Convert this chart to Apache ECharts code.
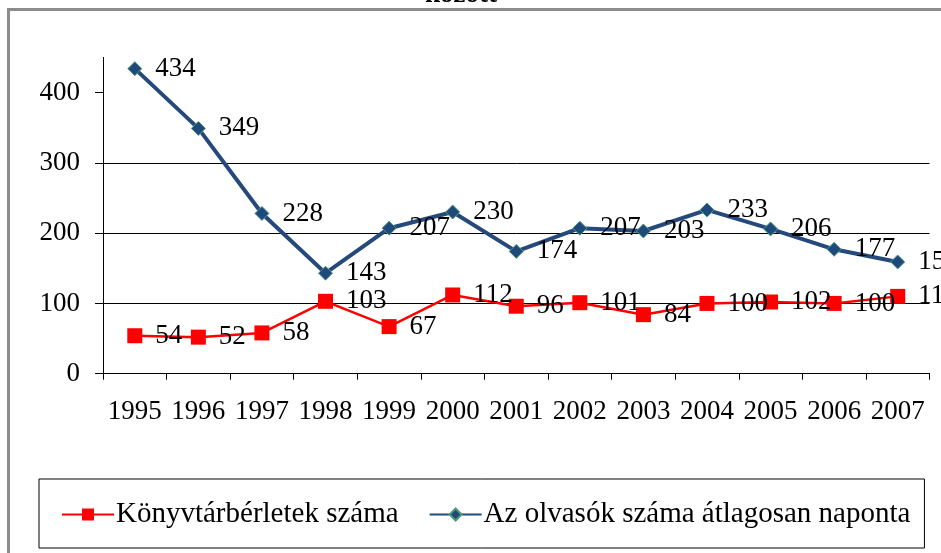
<!DOCTYPE html>
<html>
<head>
<meta charset="utf-8">
<script src="https://cdn.jsdelivr.net/npm/echarts@6/dist/echarts.min.js"></script>
<style>
  html, body { margin: 0; padding: 0; background: #fff; }
  #chart { width: 941px; height: 553px; }
</style>
</head>
<body>
<div id="chart"></div>
<script>
	'use strict';
	var years = ['1995', '1996', '1997', '1998', '1999', '2000', '2001', '2002', '2003', '2004', '2005', '2006', '2007'];
	// Könyvtárbérletek száma
	var berletek = [54, 52, 58, 103, 67, 112, 96, 101, 84, 100, 102, 100, 110];
	// Az olvasók száma átlagosan naponta
	var olvasok = [434, 349, 228, 143, 207, 230, 174, 207, 203, 233, 206, 177, 159];
	var yTicks = [0, 100, 200, 300, 400];

	var font = '"Liberation Serif", "Times New Roman", serif';
	var chart = echarts.init(document.getElementById('chart'));

	var option = {
		animation: false,
		title: {
			text: 'között',
			left: 420,
			top: -23,
			textStyle: { fontFamily: font, fontSize: 27, fontWeight: 'bold', color: '#000' }
		},
		graphic: [
			{
				type: 'rect',
				shape: { x: 8.5, y: 9.5, width: 960, height: 600 },
				style: { fill: 'none', stroke: '#8c8c8c', lineWidth: 3 },
				silent: true
			}
		],
		grid: { left: 103, right: 11.5, top: 57.4, bottom: 179.3 },
		legend: {
			left: 39,
			top: 479,
			padding: [21, 14, 19, 22],
			borderColor: '#000',
			borderWidth: 1,
			itemWidth: 52,
			itemHeight: 15,
			itemGap: 30,
			textStyle: { fontFamily: font, fontSize: 29, color: '#000', padding: [0, 0, 0, -3] },
			data: ['Könyvtárbérletek száma', 'Az olvasók száma átlagosan naponta']
		},
		xAxis: {
			type: 'category',
			data: years,
			boundaryGap: true,
			axisLine: { lineStyle: { color: '#000', width: 1 } },
			axisTick: { show: true, length: 6, lineStyle: { color: '#000' } },
			axisLabel: { interval: 0, color: '#000', fontFamily: font, fontSize: 27, margin: 25 },
			splitLine: { show: false }
		},
		yAxis: {
			type: 'value',
			min: 0,
			max: 450,
			interval: 100,
			axisLine: { show: true, lineStyle: { color: '#000', width: 1 } },
			axisTick: { show: true, length: 8, customValues: yTicks, lineStyle: { color: '#000' } },
			axisLabel: { color: '#000', fontFamily: font, fontSize: 27, margin: 23, customValues: yTicks },
			splitLine: { show: true, showMaxLine: false, lineStyle: { color: '#000', width: 1 } }
		},
		series: [
			{
				name: 'Könyvtárbérletek száma',
				type: 'line',
				data: berletek,
				symbol: 'rect',
				symbolSize: 15,
				itemStyle: { color: '#ff0000' },
				lineStyle: { color: '#ff0000', width: 2.5 },
				label: {
					show: true,
					position: 'right',
					distance: 13,
					color: '#000',
					fontFamily: font,
					fontSize: 27
				},
				z: 3
			},
			{
				name: 'Az olvasók száma átlagosan naponta',
				type: 'line',
				data: olvasok,
				symbol: 'diamond',
				symbolSize: 14,
				itemStyle: { color: '#1f497d', borderColor: '#4f9a7c', borderWidth: 1 },
				lineStyle: { color: '#24497a', width: 4 },
				label: {
					show: true,
					position: 'right',
					distance: 13,
					color: '#000',
					fontFamily: font,
					fontSize: 27
				},
				z: 2
			}
		]
	};
	chart.setOption(option);
</script>
</body>
</html>
